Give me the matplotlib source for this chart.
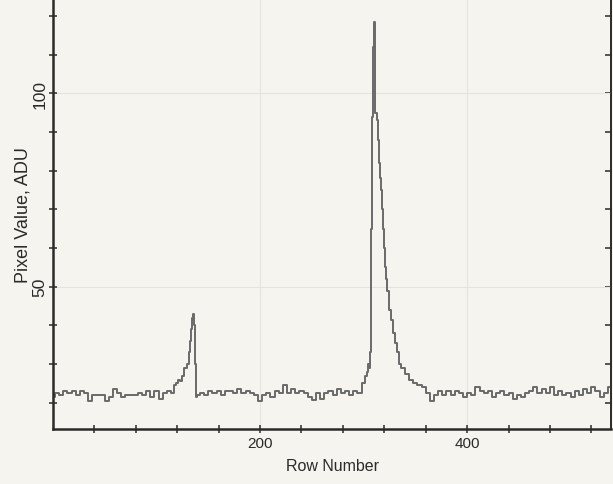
import matplotlib
matplotlib.use("Agg")
import matplotlib.pyplot as plt
import numpy as np

# row number / pixel value, in four stretches
rows_a = [0, 4, 8, 12, 16, 20, 24, 28, 32, 36, 40, 44, 48, 52, 56, 60, 64, 68, 72, 76,
          80, 84, 88, 92, 96, 100, 104, 108, 112, 116,
          118, 120, 122, 124, 126, 128, 130, 132, 133, 134, 135, 136, 137, 138, 139]
vals_a = [21.5, 22.5, 22, 23, 22.5, 23, 22, 23, 22.5, 20.5,
          22, 22, 22, 20.5, 21.5, 23.5, 22.5, 21.5, 22, 22,
          22, 22.5, 22, 23, 21.5, 23, 21, 22.5, 23, 22.5,
          24.5, 25, 26, 25.5, 27, 29, 30, 33, 36, 39, 42, 43, 40, 30, 21.5]

rows_b = [140, 144, 148, 152, 156, 160, 164, 168, 172, 176, 180, 184, 188, 192, 196,
          200, 204, 208, 212, 216, 220, 224, 228, 232, 236, 240, 244, 248, 252, 256,
          260, 264, 268, 272, 276, 280, 284, 288, 292, 296]
vals_b = [22, 22.5, 22, 23, 22.5, 23, 22, 23, 23, 22.5,
          23.5, 22.5, 23, 22.5, 22, 20.5, 22, 22.5, 21.5, 23,
          22.5, 24.5, 22.5, 23.5, 22.5, 23, 22.5, 21.5, 20.8, 22.5,
          21, 22.5, 23, 22, 23.5, 22.5, 23, 22, 23, 22.5]

rows_c = [300, 302, 304, 305, 306, 307, 308, 309, 310, 311, 312, 313, 314, 315, 316, 317,
          318, 319, 320, 321, 322, 324, 326, 327, 329, 331, 333, 335, 338, 342, 346, 350]
vals_c = [25, 27, 28, 30, 29, 33, 65, 94, 112, 118.5, 95, 93, 88, 82, 78, 75,
          70, 65, 60, 55, 52, 49, 44, 41.5, 38, 35.5, 33, 30, 29, 27.5, 26, 25]

rows_d = [354, 358, 362, 366, 370, 374, 378, 382, 386, 390, 394, 398, 402, 406, 410,
          414, 418, 422, 426, 430, 434, 438, 442, 446, 450, 454, 458, 462, 466, 470,
          474, 478, 482, 486, 490, 494, 498, 502, 506, 510, 514, 518, 522, 526, 530,
          534, 538]
vals_d = [24.5, 24, 22.5, 20.5, 22, 23, 22, 23, 22, 23,
          22.5, 21.5, 22.5, 22, 24, 23, 22.5, 23, 21.5, 22.5,
          23, 22, 22.5, 21, 22, 21.5, 22.5, 23, 24, 22.5,
          23.5, 22.5, 24, 22, 23, 22, 22.5, 21.5, 23, 22,
          23.5, 22.5, 24, 23, 21.5, 22.5, 24]

rows = rows_a + rows_b + rows_c + rows_d
values = vals_a + vals_b + vals_c + vals_d

paper = "#f6f4ee"
ink = "#2a2a2a"

fig = plt.figure(figsize=(6.13, 4.85), dpi=100, facecolor=paper)
ax = fig.add_axes([53 / 613, 55 / 485, 558 / 613, 430 / 485])
ax.set_facecolor(paper)

ax.plot(rows, values, drawstyle="steps-mid", color="#6a6a6a", lw=1.4)

ax.set_xlim(0, 539)
ax.set_ylim(13.2, 124.4)

ax.set_xticks([200, 400])
ax.set_xticks(np.arange(40, 540, 40), minor=True)
ax.set_yticks([50, 100])
ax.set_yticks(np.arange(20, 130, 10), minor=True)

ax.grid(True, which="major", color="#e6e3dc", lw=0.8)
ax.set_axisbelow(True)

ax.tick_params(axis="x", which="both", direction="inout", length=6, width=1.1,
               color=ink, labelsize=11, labelcolor=ink, pad=2)
ax.tick_params(axis="y", which="both", direction="inout", length=6, width=1.1,
               color=ink, labelsize=12.5, labelcolor=ink, labelrotation=90, pad=1)
for lab in ax.get_yticklabels():
    lab.set_va("center")

# right edge: ticks only on the inside
sec = ax.secondary_yaxis("right")
sec.set_yticks(np.arange(20, 130, 10))
sec.tick_params(direction="in", length=4, width=1.1, color=ink, labelright=False)
sec.spines["right"].set_color(ink)
sec.spines["right"].set_linewidth(1.2)

ax.spines["top"].set_visible(False)
for s in ["left", "bottom", "right"]:
    ax.spines[s].set_color(ink)
    ax.spines[s].set_linewidth(1.8)
ax.spines["right"].set_linewidth(1.2)

ax.set_xlabel("Row Number", fontsize=11.5, color=ink, family="Liberation Sans", labelpad=6)
ax.set_ylabel("Pixel Value, ADU", fontsize=13, color=ink, family="Liberation Sans",
              labelpad=1)
for lab in ax.get_xticklabels() + ax.get_yticklabels():
    lab.set_family("Liberation Sans")

fig.savefig("out.png", dpi=100, facecolor=paper)
